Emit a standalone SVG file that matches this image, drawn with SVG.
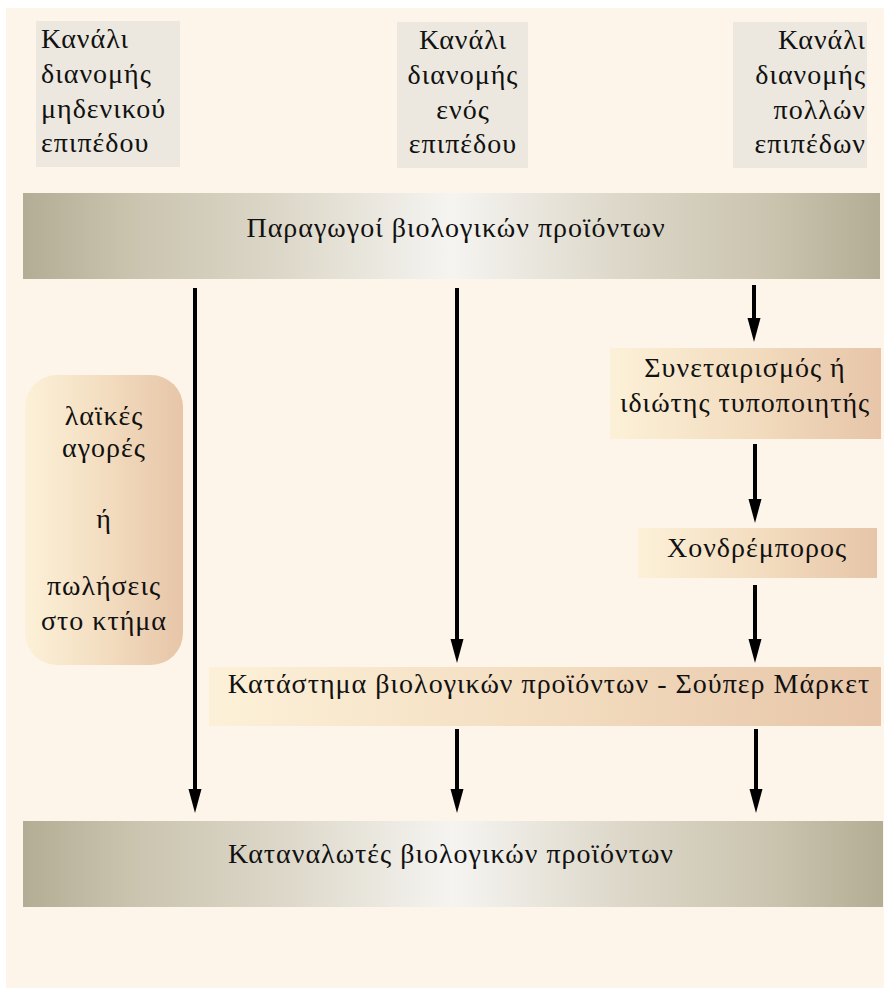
<svg xmlns="http://www.w3.org/2000/svg" width="889" height="989" viewBox="0 0 889 989">
<style>
text{font-family:"Liberation Serif","Times New Roman",serif;font-size:28px;letter-spacing:1px;fill:#111}
.hdr{fill:#ECE8DF}
.band{fill:url(#gBand)}
.box{fill:url(#gBox)}
.arr{stroke:#000;stroke-width:4;fill:none;marker-end:url(#ah)}
</style>
<defs>
<linearGradient id="gBand" x1="0" y1="0" x2="1" y2="0">
<stop offset="0" stop-color="#B3AD95"/>
<stop offset="0.12" stop-color="#C9C3AE"/>
<stop offset="0.3" stop-color="#DCD7C8"/>
<stop offset="0.5" stop-color="#F5F4F1"/>
<stop offset="0.7" stop-color="#DCD7C8"/>
<stop offset="0.88" stop-color="#C9C3AE"/>
<stop offset="1" stop-color="#B3AD95"/>
</linearGradient>
<linearGradient id="gBox" x1="0" y1="0" x2="1" y2="0">
<stop offset="0" stop-color="#FCF1D8"/>
<stop offset="0.5" stop-color="#F3DDC0"/>
<stop offset="1" stop-color="#E7C5A8"/>
</linearGradient>
<marker id="ah" markerUnits="userSpaceOnUse" viewBox="0 -7 24 14" markerWidth="24" markerHeight="14" refX="14" refY="0" orient="auto">
<path d="M0,-6.5 L24,0 L0,6.5 Z" fill="#000"/>
</marker>
</defs>
<rect x="0" y="0" width="889" height="989" fill="#FFFFFF"/>
<rect x="6" y="8" width="878" height="980" fill="#FDF5EA"/>

<g id="hdr-zero">
<rect class="hdr" x="36" y="21" width="144" height="146"/>
<text x="41" y="48">Κανάλι</text>
<text x="41" y="83">διανομής</text>
<text x="41" y="118">μηδενικού</text>
<text x="41" y="152">επιπέδου</text>
</g>
<g id="hdr-one">
<rect class="hdr" x="397" y="22" width="131" height="146"/>
<text x="463" y="49" text-anchor="middle">Κανάλι</text>
<text x="463" y="84" text-anchor="middle">διανομής</text>
<text x="463" y="119" text-anchor="middle">ενός</text>
<text x="463" y="153" text-anchor="middle">επιπέδου</text>
</g>
<g id="hdr-multi">
<rect class="hdr" x="733" y="22" width="134" height="146"/>
<text x="866" y="49" text-anchor="end">Κανάλι</text>
<text x="866" y="84" text-anchor="end">διανομής</text>
<text x="866" y="119" text-anchor="end">πολλών</text>
<text x="866" y="153" text-anchor="end">επιπέδων</text>
</g>

<g id="producers">
<rect class="band" x="23" y="193" width="857" height="86"/>
<text x="456" y="237" text-anchor="middle">Παραγωγοί βιολογικών προϊόντων</text>
</g>

<g id="markets">
<rect class="box" x="25" y="375" width="158" height="290" rx="32" ry="32"/>
<text x="104" y="425" text-anchor="middle">λαϊκές</text>
<text x="104" y="457" text-anchor="middle">αγορές</text>
<text x="104" y="528" text-anchor="middle">ή</text>
<text x="104" y="595" text-anchor="middle">πωλήσεις</text>
<text x="104" y="630" text-anchor="middle">στο κτήμα</text>
</g>

<g id="coop">
<rect class="box" x="610" y="348" width="271" height="91"/>
<text x="745" y="377" text-anchor="middle">Συνεταιρισμός ή</text>
<text x="745" y="412" text-anchor="middle">ιδιώτης τυποποιητής</text>
</g>

<g id="wholesaler">
<rect class="box" x="638" y="528" width="239" height="50"/>
<text x="757" y="557" text-anchor="middle">Χονδρέμπορος</text>
</g>

<g id="store">
<rect class="box" x="209" y="667" width="672" height="59"/>
<text x="549" y="693" text-anchor="middle">Κατάστημα βιολογικών προϊόντων - Σούπερ Μάρκετ</text>
</g>

<g id="consumers">
<rect class="band" x="23" y="821" width="860" height="86"/>
<text x="451" y="863" text-anchor="middle">Καταναλωτές βιολογικών προϊόντων</text>
</g>

<g id="connectors">
<line class="arr" x1="195" y1="288" x2="195" y2="803"/>
<line class="arr" x1="457" y1="288" x2="457" y2="653"/>
<line class="arr" x1="457" y1="729" x2="457" y2="803"/>
<line class="arr" x1="754" y1="285" x2="754" y2="332"/>
<line class="arr" x1="755" y1="444" x2="755" y2="513"/>
<line class="arr" x1="755" y1="585" x2="755" y2="653"/>
<line class="arr" x1="756" y1="729" x2="756" y2="803"/>
</g>
</svg>
